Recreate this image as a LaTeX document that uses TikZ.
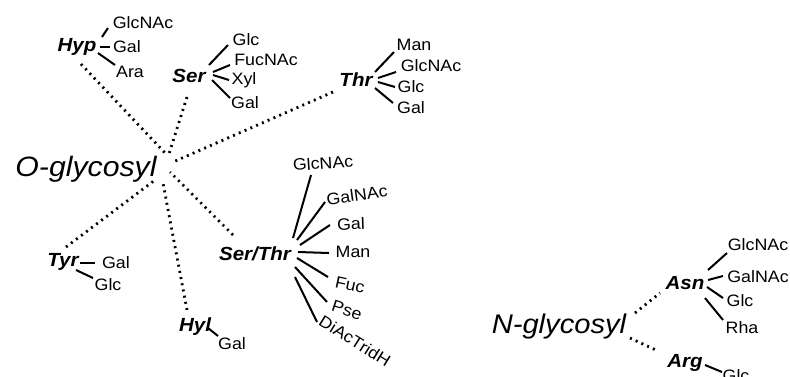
\documentclass[tikz,border=0pt]{standalone}
\usepackage{fontspec}
\setmainfont[FakeStretch=1.08]{Liberation Sans}
\usetikzlibrary{calc}
\begin{document}
\begin{tikzpicture}[x=1pt,y=-1pt,
  aa/.style={font=\fontsize{19}{19}\selectfont\bfseries\itshape, inner sep=0pt},
  su/.style={font=\fontsize{16.5}{16.5}\selectfont, inner sep=0pt},
  big/.style={font=\fontsize{28}{28}\selectfont\itshape, inner sep=0pt},
  br/.style={line width=2pt},
  dotl/.style={line width=2.8pt, dash pattern=on 2pt off 4.3pt}]
\useasboundingbox (0,0) rectangle (790,376);

% ---------- O-glycosyl ----------
\node[big] (O) at (86,169) {O-glycosyl};
\coordinate (oc) at (168,165);

% Hyp
\node[aa] (Hyp) at (77,47) {Hyp};
\node[su] (HypGlcNAc) at (143,23) {GlcNAc};
\node[su] (HypGal) at (127,47) {Gal};
\node[su] (HypAra) at (130,72) {Ara};
\draw[br] ($(Hyp)+(25,-10)$) -- ($(HypGlcNAc)+(-35,5)$);
\draw[br] ($(Hyp)+(23,0)$) -- ($(HypGal)+(-17,0)$);
\draw[br] ($(Hyp)+(21,6)$) -- ($(HypAra)+(-15,-7)$);

% Ser
\node[aa] (Ser) at (189,76) {Ser};
\node[su] (SerGlc) at (246,40) {Glc};
\node[su] (SerFucNAc) at (266,60) {FucNAc};
\node[su] (SerXyl) at (244,80) {Xyl};
\node[su] (SerGal) at (245,103) {Gal};
\draw[br] ($(Ser)+(20,-11)$) -- ($(SerGlc)+(-18,5)$);
\draw[br] ($(Ser)+(24,-4)$) -- ($(SerFucNAc)+(-36,5)$);
\draw[br] ($(Ser)+(24,-1)$) -- ($(SerXyl)+(-15,0)$);
\draw[br] ($(Ser)+(23,4)$) -- ($(SerGal)+(-15,-5)$);

% Thr
\node[aa] (Thr) at (356,80) {Thr};
\node[su] (ThrMan) at (414,45) {Man};
\node[su] (ThrGlcNAc) at (431,66) {GlcNAc};
\node[su] (ThrGlc) at (411,87) {Glc};
\node[su] (ThrGal) at (411,108) {Gal};
\draw[br] ($(Thr)+(19,-8)$) -- ($(ThrMan)+(-20,7)$);
\draw[br] ($(Thr)+(22,-2)$) -- ($(ThrGlcNAc)+(-35,6)$);
\draw[br] ($(Thr)+(22,2)$) -- ($(ThrGlc)+(-16,0)$);
\draw[br] ($(Thr)+(19,8)$) -- ($(ThrGal)+(-18,-5)$);

% Tyr
\node[aa] (Tyr) at (63,262) {Tyr};
\node[su] (TyrGal) at (116,263) {Gal};
\node[su] (TyrGlc) at (108,285) {Glc};
\draw[br] ($(Tyr)+(17,1)$) -- ($(TyrGal)+(-21,0)$);
\draw[br] ($(Tyr)+(13,8)$) -- ($(TyrGlc)+(-15,-7)$);

% Hyl
\node[aa] (Hyl) at (195,327) {Hyl};
\node[su] (HylGal) at (232,344) {Gal};
\draw[br] ($(Hyl)+(13,1)$) -- ($(HylGal)+(-14,-8)$);

% Ser/Thr
\node[aa] (ST) at (255,254) {Ser/Thr};
\node[su, rotate=4] (STGlcNAc) at (323,163) {GlcNAc};
\node[su, rotate=8] (STGalNAc) at (357,195) {GalNAc};
\node[su, rotate=2] (STGal) at (351,224) {Gal};
\node[su] (STMan) at (353,252) {Man};
\node[su, rotate=-12] (STFuc) at (350,285) {Fuc};
\node[su, rotate=-18] (STPse) at (347,310) {Pse};
\node[su, rotate=-32] (STDi) at (355,341) {DiAcTridH};
\draw[br] ($(ST)+(38,-16)$) -- ($(STGlcNAc)+(-12,12)$);
\draw[br] ($(ST)+(42,-14)$) -- ($(STGalNAc)+(-32,7)$);
\draw[br] ($(ST)+(45,-9)$) -- ($(STGal)+(-21,1)$);
\draw[br] ($(ST)+(43,-2)$) -- ($(STMan)+(-24,1)$);
\draw[br] ($(ST)+(42,4)$) -- ($(STFuc)+(-22,-8)$);
\draw[br] ($(ST)+(40,13)$) -- ($(STPse)+(-20,-8)$);
\draw[br] ($(ST)+(40,23)$) -- ($(STDi)+(-38,-19)$);

% dotted star
\draw[dotl] ($(Hyp)+(4,17)$) -- ($(oc)+(-1,-10)$);
\draw[dotl] ($(Ser)+(-2,21)$) -- ($(oc)+(0,-8)$);
\draw[dotl] ($(Thr)+(-23,12)$) -- ($(oc)+(5,-3)$);
\draw[dotl] ($(ST)+(-22,-19)$) -- ($(oc)+(2,7)$);
\draw[dotl] ($(Hyl)+(-8,-17)$) -- ($(oc)+(-5,18)$);
\draw[dotl] ($(Tyr)+(3,-15)$) -- ($(oc)+(-13,15)$);

% ---------- N-glycosyl ----------
\node[big, font=\fontsize{27}{27}\selectfont\itshape] (N) at (559,327) {N-glycosyl};
\node[aa] (Asn) at (685,283) {Asn};
\node[su] (AsnGlcNAc) at (758,245) {GlcNAc};
\node[su] (AsnGalNAc) at (758,277) {GalNAc};
\node[su] (AsnGlc) at (740,301) {Glc};
\node[su] (AsnRha) at (742,328) {Rha};
\draw[br] ($(Asn)+(23,-13)$) -- ($(AsnGlcNAc)+(-31,8)$);
\draw[br] ($(Asn)+(23,-3)$) -- ($(AsnGalNAc)+(-35,-1)$);
\draw[br] ($(Asn)+(22,4)$) -- ($(AsnGlc)+(-17,-3)$);
\draw[br] ($(Asn)+(20,15)$) -- ($(AsnRha)+(-19,-8)$);

\node[aa] (Arg) at (685,363) {Arg};
\node[su] (ArgGlc) at (736,376) {Glc};
\draw[br] ($(Arg)+(20,2)$) -- ($(ArgGlc)+(-14,-4)$);

\draw[dotl] ($(N)+(76,-14)$) -- ($(Asn)+(-25,10)$);
\draw[dotl] ($(N)+(71,11)$) -- ($(Arg)+(-27,-12)$);
\end{tikzpicture}
\end{document}
